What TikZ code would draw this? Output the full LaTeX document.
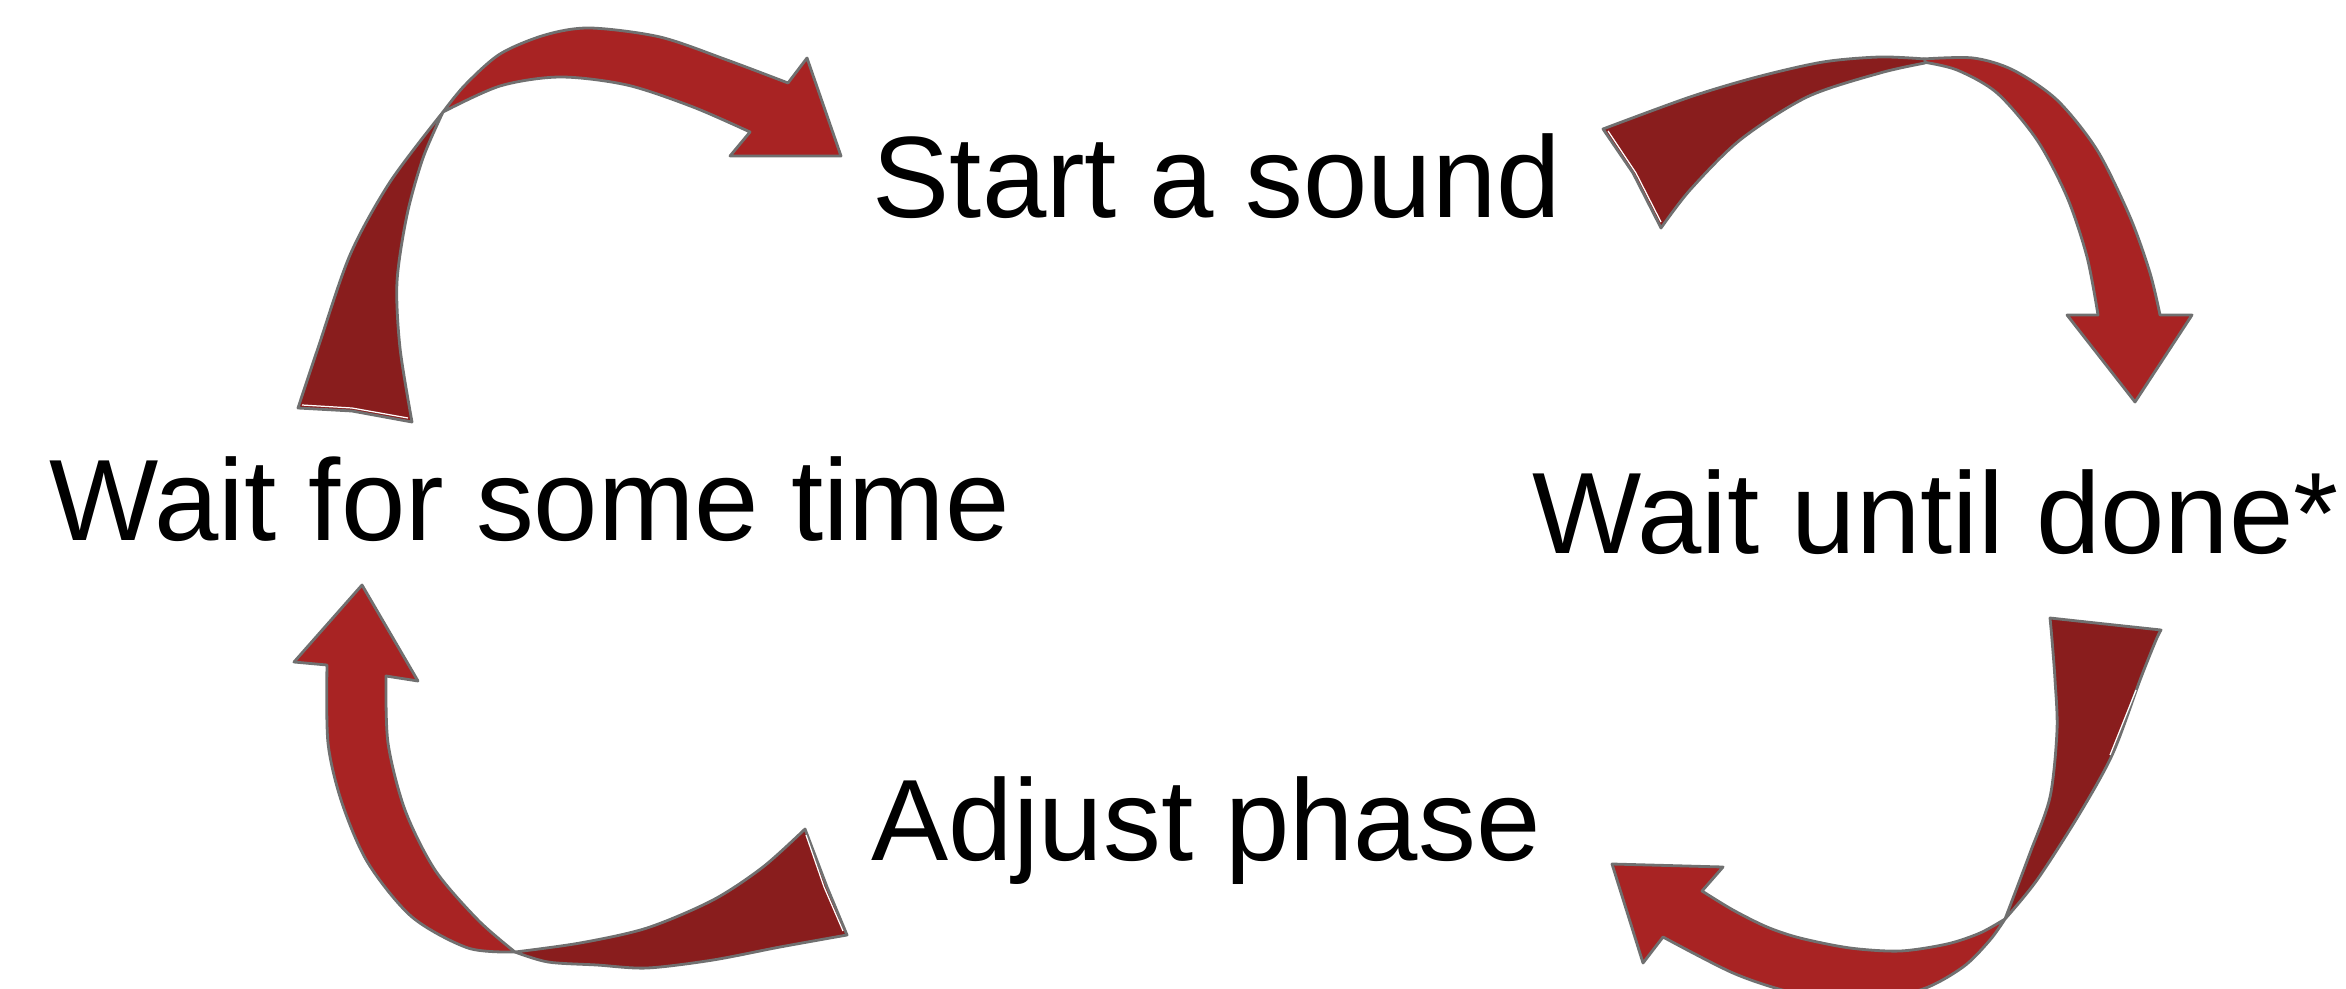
\documentclass[tikz,border=0pt]{standalone}
\usepackage{fontspec}
\setmainfont{Liberation Sans}
\definecolor{bandred}{RGB}{168,35,35}
\definecolor{tailred}{RGB}{137,29,29}
\definecolor{rim}{RGB}{112,112,112}
\begin{document}
\begin{tikzpicture}[x=0.01cm,y=-0.01cm,
  band/.style={fill=bandred,draw=rim,line width=0.8pt,line join=round},
  tail/.style={fill=tailred,draw=rim,line width=0.8pt,line join=round},
  sheen/.style={draw=white,line width=0.35pt},
  steplabel/.style={anchor=base west,inner sep=0pt,font=\fontsize{32.9}{40}\selectfont}]
\useasboundingbox (0,0) rectangle (2346,988);
\clip (0,0) rectangle (2346,988);

% step labels
\node[steplabel] (start) at (872,217) {Start a sound};
\node[steplabel] (waitsome) at (49,540) {Wait for some time};
\node[steplabel] (waitdone) at (1532,553) {Wait until done*};
\node[steplabel] (adjust) at (871,860) {Adjust phase};

% curved arrow: wait for some time -> start a sound
\path[band] plot[smooth] coordinates {(443,112) (465,85) (500,54) (545,35) (590,28) (660,37) (727,60) (788,83)}
  -- (807,58) -- (841,156) -- (730,156) -- (750,132)
  -- plot[smooth] coordinates {(750,132) (693,107) (627,85) (560,77) (500,86) (443,112)} -- cycle;
\path[tail] plot[smooth] coordinates {(443,112) (423,158) (407,215) (397,282) (400,348) (412,422)}
  -- (352,411) -- (298,408)
  -- plot[smooth] coordinates {(298,408) (318,348) (350,255) (390,182) (443,112)} -- cycle;
\draw[sheen] (302,405) -- (352,408) -- (408,418);

% curved arrow: start a sound -> wait until done
\path[band] plot[smooth] coordinates {(1923,59) (1973,58) (2013,70) (2057,100) (2097,150) (2130,217) (2150,273) (2160,315)}
  -- (2192,315) -- (2135,402) -- (2067,315) -- (2098,315)
  -- plot[smooth] coordinates {(2098,315) (2087,257) (2067,197) (2037,140) (1997,93) (1957,70) (1923,62)} -- cycle;
\path[tail] plot[smooth] coordinates {(1603,129) (1690,97) (1757,77) (1823,62) (1880,57) (1925,59)}
  -- (1925,63)
  -- plot[smooth] coordinates {(1925,63) (1880,73) (1807,97) (1740,140) (1690,190) (1661,228)}
  -- (1633,173) -- cycle;
\draw[sheen] (1608,131) -- (1636,173) -- (1661,222);

% curved arrow: wait until done -> adjust phase
\path[band] plot[smooth] coordinates {(2005,919) (1980,933) (1947,944) (1900,951) (1850,948) (1800,938) (1767,927) (1733,910) (1702,891)}
  -- (1723,867) -- (1612,864) -- (1643,963) -- (1663,937)
  -- plot[smooth] coordinates {(1663,937) (1733,973) (1790,992) (1850,1002) (1920,990) (1963,967) (1990,940) (2005,919)} -- cycle;
\path[tail] plot[smooth] coordinates {(2005,919) (2030,853) (2050,797) (2057,730) (2055,680) (2052,640) (2050,618)}
  -- (2105,624) -- (2161,630)
  -- plot[smooth] coordinates {(2161,630) (2156,640) (2140,680) (2113,753) (2080,813) (2037,880) (2005,919)} -- cycle;
\draw[sheen] (2136,690) -- (2110,755);

% curved arrow: adjust phase -> wait for some time
\path[band] plot[smooth] coordinates {(515,952) (468,948) (412,917) (368,863) (342,803) (328,743) (327,665)}
  -- (294,662) -- (362,585) -- (418,681) -- (386,676)
  -- plot[smooth] coordinates {(386,676) (388,743) (405,810) (435,870) (478,920) (515,952)} -- cycle;
\path[tail] plot[smooth] coordinates {(515,952) (580,943) (647,928) (713,900) (763,867) (805,829)}
  -- (827,887) -- (847,935)
  -- plot[smooth] coordinates {(847,935) (780,947) (713,960) (647,968) (597,965) (548,962) (515,952)} -- cycle;
\draw[sheen] (806,835) -- (824,887) -- (843,931);
\end{tikzpicture}
\end{document}
